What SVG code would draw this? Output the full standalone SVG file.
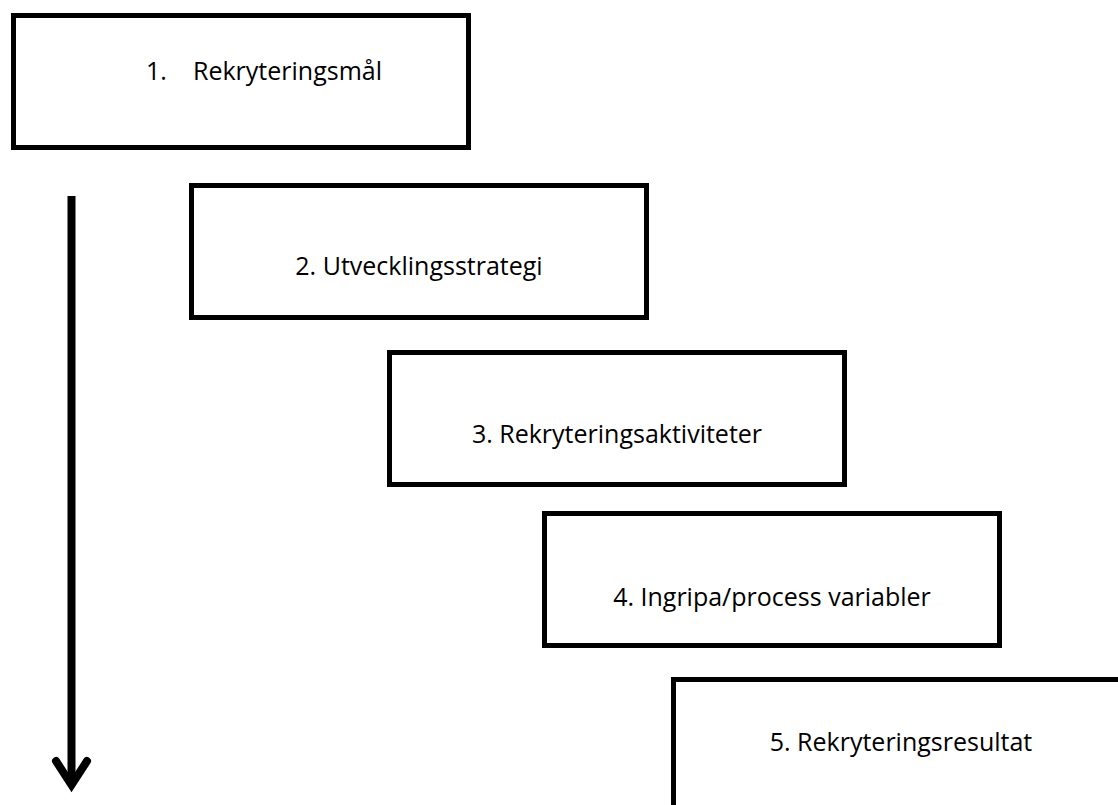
<svg xmlns="http://www.w3.org/2000/svg" width="1118" height="805" viewBox="0 0 1118 805">
<style>
.box{fill:#ffffff;stroke:#000000;stroke-width:5}
.lbl{font-family:"Open Sans","Liberation Sans",sans-serif;font-size:25px;fill:#000000}
.mid{text-anchor:middle}
.arr{fill:none;stroke:#000000;stroke-width:8}
</style>
<rect x="0" y="0" width="1118" height="805" fill="#ffffff"/>
<g id="connectors">
<line class="arr" x1="71.5" y1="196" x2="71.5" y2="784"/>
<polyline class="arr" points="56,761 71.5,785 87,761" stroke-linecap="round" stroke-linejoin="miter"/>
</g>
<g id="node1">
<rect class="box" x="13.5" y="15.5" width="455" height="132"/>
<text class="lbl" y="80"><tspan x="146">1.</tspan><tspan x="193">Rekryteringsmål</tspan></text>
</g>
<g id="node2">
<rect class="box" x="191.5" y="185.5" width="455" height="132"/>
<text class="lbl mid" x="419" y="275">2. Utvecklingsstrategi</text>
</g>
<g id="node3">
<rect class="box" x="389.5" y="352.5" width="455" height="132"/>
<text class="lbl mid" x="617" y="443">3. Rekryteringsaktiviteter</text>
</g>
<g id="node4">
<rect class="box" x="544.5" y="513.5" width="455" height="132"/>
<text class="lbl mid" x="772" y="606">4. Ingripa/process variabler</text>
</g>
<g id="node5">
<rect class="box" x="673.5" y="679.5" width="455" height="132"/>
<text class="lbl mid" x="901" y="751">5. Rekryteringsresultat</text>
</g>
</svg>
